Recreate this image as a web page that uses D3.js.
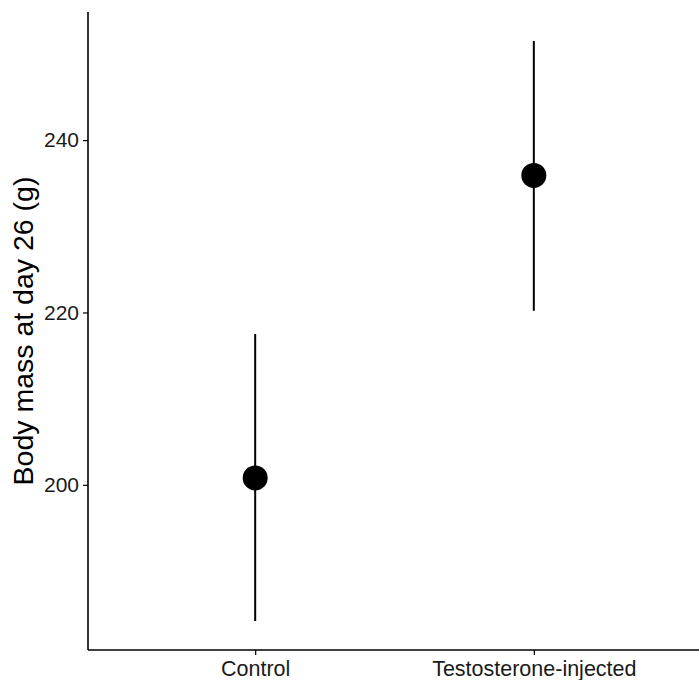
<!DOCTYPE html>
<html>
<head>
<meta charset="utf-8">
<script src="https://cdn.jsdelivr.net/npm/d3@7"></script>
<style>
  body { margin: 0; background: #fff; }
  svg text { font-family: "Liberation Sans", Arial, sans-serif; }
</style>
</head>
<body>
<div class="box"></div>
<script>
// donnees
const groupes = ['Control', 'Testosterone-injected'];
const moyennes = [200.8, 235.9];
const bornesBasses = [184.2, 220.2];
const bornesHautes = [217.5, 251.5];
const ticksY = [200, 220, 240];

const dims = {width: 699, height: 680};
const marge = {top: 12, right: -2, bottom: 30, left: 88};

const svg = d3.select('.box')
              .append('svg')
              .attr('width', dims.width)
              .attr('height', dims.height);

const donnee = groupes.map((g, i) => ({
    nom: g, moy: moyennes[i], bas: bornesBasses[i], haut: bornesHautes[i]
}));

// echelle y avec expansion de 5%
const yMin = d3.min(bornesBasses), yMax = d3.max(bornesHautes);
const pad = (yMax - yMin) * 0.05;
const y = d3.scaleLinear()
            .domain([yMin - pad, yMax + pad])
            .range([dims.height - marge.bottom, marge.top]);

// echelle x discrete (expansion 0.6)
const x = d3.scalePoint()
            .domain(groupes)
            .range([marge.left, dims.width - marge.right])
            .padding(0.6);

const graph = svg.append('g');

// axe y
const axeY = graph.append('g')
     .attr('transform', `translate(${marge.left}, 0)`)
     .call(d3.axisLeft(y).tickValues(ticksY).tickSize(5).tickPadding(4));
axeY.select('.domain').attr('stroke', '#000').attr('stroke-width', 1.6)
    .attr('d', `M0,${y.range()[0]}V${y.range()[1]}`);
axeY.selectAll('.tick line').attr('stroke-width', 1.2);
axeY.selectAll('.tick text').attr('font-size', 21).attr('fill', '#1a1a1a');

// axe x
const axeX = graph.append('g')
     .attr('transform', `translate(0, ${dims.height - marge.bottom})`)
     .call(d3.axisBottom(x).tickSize(5).tickPadding(6));
axeX.select('.domain').attr('stroke', '#000').attr('stroke-width', 1.6)
    .attr('d', `M${marge.left},0H${dims.width}`);
axeX.selectAll('.tick line').attr('stroke-width', 1.2);
axeX.selectAll('.tick text').attr('font-size', 21.5).attr('fill', '#1a1a1a');

// titre axe y
svg.append('text')
   .attr('transform', `translate(33, ${(marge.top + dims.height - marge.bottom) / 2}) rotate(-90)`)
   .attr('text-anchor', 'middle')
   .attr('font-size', 28.5)
   .attr('fill', '#000')
   .text('Body mass at day 26 (g)');

// barres d'erreur
graph.selectAll('line.erreur')
     .data(donnee)
     .enter()
     .append('line')
     .attr('class', 'erreur')
     .attr('x1', d => x(d.nom))
     .attr('x2', d => x(d.nom))
     .attr('y1', d => y(d.bas))
     .attr('y2', d => y(d.haut))
     .attr('stroke', '#000')
     .attr('stroke-width', 2);

// points
graph.selectAll('circle')
     .data(donnee)
     .enter()
     .append('circle')
     .attr('cx', d => x(d.nom))
     .attr('cy', d => y(d.moy))
     .attr('r', 12.5)
     .attr('fill', '#000');
</script>
</body>
</html>
